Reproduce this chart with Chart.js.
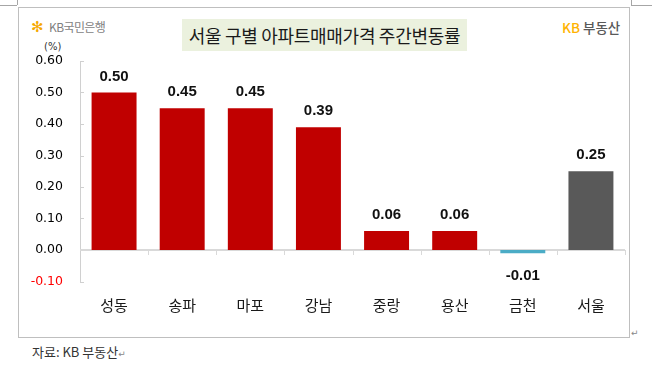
<!DOCTYPE html>
<html><head><meta charset="utf-8">
<script src="https://cdn.jsdelivr.net/npm/chart.js@4/dist/chart.umd.min.js"></script>
<style>
html,body{margin:0;padding:0;background:#fff;}
#wrap{position:relative;width:652px;height:368px;overflow:hidden;font-family:"Noto Sans CJK KR",sans-serif;}
#c{position:absolute;left:0;top:0;}
.abs{position:absolute;white-space:nowrap;}
</style></head><body>
<div id="wrap">
  <div class="abs" style="left:17px;top:0;width:0;height:5px;border-left:1px solid #a6a6a6;"></div>
  <div class="abs" style="left:0;top:5px;width:17px;height:0;border-top:1px solid #a6a6a6;"></div>
  <div class="abs" style="left:631px;top:0;width:0;height:5px;border-left:1px solid #a6a6a6;"></div>
  <div class="abs" style="left:631px;top:5px;width:21px;height:0;border-top:1px solid #a6a6a6;"></div>
  <div class="abs" style="left:18px;top:7px;width:610px;height:329px;border:1px solid #bfbfbf;"></div>
  <div class="abs" style="left:31px;top:18px;font-size:15px;line-height:18px;color:#f5a800;font-family:'DejaVu Sans';">✻</div>
  <div class="abs" style="left:49px;top:19px;font-size:12px;line-height:16px;color:#7f7f7f;letter-spacing:-0.6px;">KB국민은행</div>
  <div class="abs" style="left:182px;top:19px;width:285px;height:32px;background:#EBF1DE;"></div>
  <div class="abs" style="left:182px;top:19px;width:285px;height:32px;line-height:32px;text-align:center;font-size:18px;color:#1a1a1a;letter-spacing:-0.3px;">서울 구별 아파트매매가격 주간변동률</div>
  <div class="abs" style="left:562px;top:18px;font-size:13.5px;line-height:18px;font-weight:500;"><span style="color:#ffb300;">KB</span><span style="color:#595959;margin-left:3px;">부동산</span></div>
  <div class="abs" style="left:44px;top:40px;font-size:10px;line-height:14px;color:#333;font-family:'DejaVu Sans';">(%)</div>
  <div class="abs" style="left:631px;top:327px;font-size:9px;line-height:12px;color:#888;font-family:'DejaVu Sans';">↵</div>
  <div class="abs" style="left:32px;top:343px;font-size:13px;line-height:18px;color:#333;">자료: KB 부동산<span style="font-size:9px;color:#888;font-family:'DejaVu Sans';">↵</span></div>
  <canvas id="c" width="652" height="368" style="width:652px;height:368px;"></canvas>
</div>
<script>
const categories = ['성동', '송파', '마포', '강남', '중랑', '용산', '금천', '서울'];
const changeRates = [0.50, 0.45, 0.45, 0.39, 0.06, 0.06, -0.01, 0.25];
const yTickValues = [-0.10, 0.00, 0.10, 0.20, 0.30, 0.40, 0.50, 0.60];
const barColors = ['#C00000', '#C00000', '#C00000', '#C00000', '#C00000', '#C00000', '#4BACC6', '#595959'];

const axisGray = '#d0d0d0';

const decorPlugin = {
  id: 'decor',
  beforeDatasetsDraw(chart) {
    const ctx = chart.ctx, y = chart.scales.y, a = chart.chartArea;
    ctx.save();
    ctx.strokeStyle = axisGray; ctx.lineWidth = 1;
    yTickValues.forEach(v => {
      const py = Math.round(y.getPixelForValue(v)) + 0.5;
      ctx.beginPath(); ctx.moveTo(a.left, py); ctx.lineTo(a.left + 4, py); ctx.stroke();
    });
    const zy = y.getPixelForValue(0);
    ctx.strokeStyle = '#d9d9d9'; ctx.lineWidth = 2;
    ctx.beginPath(); ctx.moveTo(a.left, zy); ctx.lineTo(a.right, zy); ctx.stroke();
    ctx.lineWidth = 1;
    const step = (a.right - a.left) / categories.length;
    for (let i = 1; i <= categories.length; i++) {
      const px = Math.round(a.left + step * i) + 0.5;
      ctx.beginPath(); ctx.moveTo(px, zy); ctx.lineTo(px, zy + 5); ctx.stroke();
    }
    ctx.restore();
  },
  afterDatasetsDraw(chart) {
    const ctx = chart.ctx;
    const meta = chart.getDatasetMeta(0);
    ctx.save();
    ctx.font = 'bold 15px "Liberation Sans", Arial, sans-serif';
    ctx.fillStyle = '#111';
    ctx.textAlign = 'center';
    ctx.textBaseline = 'alphabetic';
    meta.data.forEach((bar, i) => {
      const v = changeRates[i];
      const ty = v >= 0 ? bar.y - 12 : bar.y + 27;
      ctx.fillText(v.toFixed(2), bar.x, ty);
    });
    ctx.restore();
  }
};

new Chart(document.getElementById('c'), {
  type: 'bar',
  data: {
    labels: categories,
    datasets: [{
      data: changeRates,
      backgroundColor: barColors,
      borderWidth: 0,
      categoryPercentage: 1,
      barPercentage: 0.66
    }]
  },
  options: {
    responsive: false,
    animation: false,
    events: [],
    layout: { padding: { top: 61, right: 27, left: 0, bottom: 0 } },
    plugins: { legend: { display: false }, tooltip: { enabled: false }, title: { display: false } },
    scales: {
      x: {
        grid: { display: false, drawTicks: false },
        border: { display: false },
        ticks: { color: '#1a1a1a', padding: 15, font: { family: '"Noto Sans CJK KR", sans-serif', size: 15 }, maxRotation: 0 },
        afterFit(s) { s.height = 86.5; }
      },
      y: {
        min: -0.1, max: 0.6,
        grid: { display: false, drawTicks: false },
        border: { display: true, color: axisGray, width: 1 },
        afterBuildTicks(s) { s.ticks = yTickValues.map(v => ({ value: v })); },
        ticks: {
          padding: 17,
          color: ctx => ctx.tick.value < 0 ? '#ff0000' : '#000',
          font: { family: '"DejaVu Sans", sans-serif', size: 12.5 },
          callback: v => Number(v).toFixed(2)
        },
        afterFit(s) { s.width = 80; }
      }
    }
  },
  plugins: [decorPlugin]
});
</script>
</body></html>
